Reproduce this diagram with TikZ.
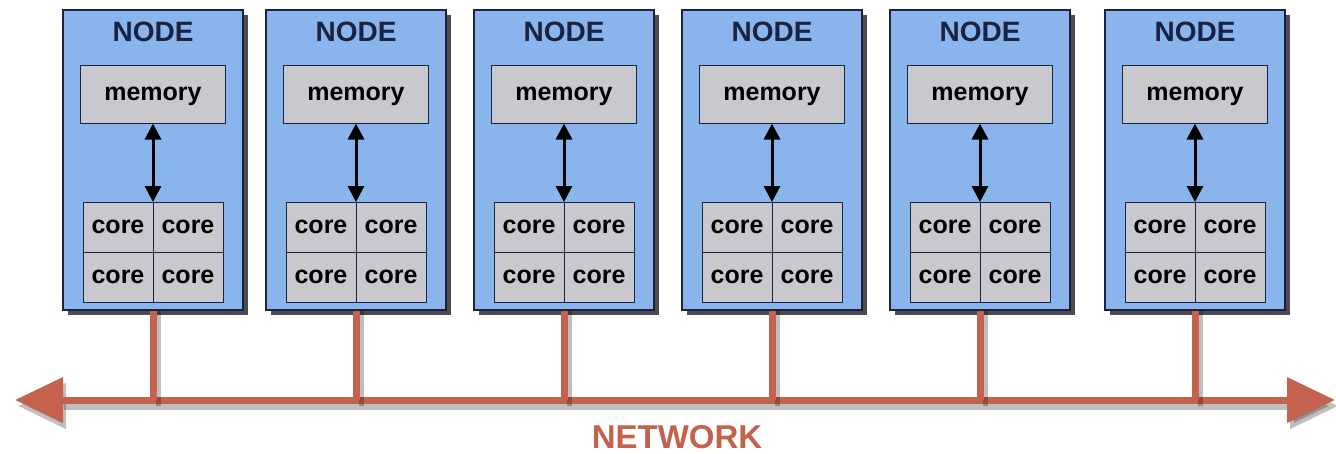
\documentclass[tikz,border=0pt]{standalone}
\usepackage{fontspec}
\setmainfont{Liberation Sans}
\usetikzlibrary{positioning,arrows.meta,shadows}
\definecolor{nodeblue}{RGB}{138,180,236}
\definecolor{navy}{RGB}{25,35,65}
\definecolor{cellgray}{RGB}{200,200,206}
\definecolor{netred}{RGB}{196,98,78}
\begin{document}
\begin{tikzpicture}[x=1pt, y=-1pt,
	nodebox/.style = {draw=navy, line width=1.5pt, fill=nodeblue, minimum width=180pt, minimum height=300pt,
		drop shadow={shadow xshift=5pt, shadow yshift=-5pt, fill=black, opacity=0.7}},
	membox/.style = {draw=navy, line width=1pt, fill=cellgray, minimum width=145pt, minimum height=58pt,
		text depth=0pt, font=\bfseries\fontsize{25}{25}\selectfont},
	corebox/.style = {draw=navy, line width=1pt, fill=cellgray, minimum width=70pt, minimum height=50pt,
		inner sep=0pt, outer sep=0pt, font=\bfseries\fontsize{25}{25}\selectfont},
	title/.style = {font=\bfseries\fontsize{28}{28}\selectfont, text=navy},
	memarrow/.style = {{Triangle[length=16pt,width=16pt]}-{Triangle[length=16pt,width=16pt]}, line width=3pt},
	netline/.style = {draw=netred, line width=7pt},
	netshadow/.style = {draw=black, line width=8pt, opacity=0.25}]
	\useasboundingbox (0,0) rectangle (1336,453);
	\coordinate (netL) at (15,400);
	\coordinate (netR) at (1335,400);
	\coordinate (shL) at (18,406);
	\coordinate (shR) at (1338,406);
	% network shadow and line
	\draw[netshadow, {Triangle[length=48pt,width=44pt]}-{Triangle[length=48pt,width=44pt]}] (shL) -- (shR);
	\draw[netline, {Triangle[length=48pt,width=44pt]}-{Triangle[length=48pt,width=44pt]}, fill=netred] (netL) -- (netR);
	\node[font=\bfseries\fontsize{33}{33}\selectfont, text=netred] (netlabel) at (677,437) {NETWORK};
	% compute nodes
	\foreach \x [count=\i] in {153,356,564,772,980,1195} {
		\node[nodebox] (node\i) at (\x,160) {};
		\draw[netshadow, line width=5pt] ([xshift=5pt]node\i.south) -- ([xshift=5pt]node\i.south |- shL);
		\draw[netline] (node\i.south) -- (node\i.south |- netL);
		\node[title] (lbl\i) at (\x,32) {NODE};
		\node[membox] (mem\i) at (\x,94) {memory};
		\node[corebox, anchor=north east] (c\i a) at (\x,202) {core};
		\node[corebox, right=0pt of c\i a] (c\i b) {core};
		\node[corebox, below=0pt of c\i a] (c\i c) {core};
		\node[corebox, right=0pt of c\i c] (c\i d) {core};
		\draw[memarrow] (mem\i.south) -- (c\i a.north east);
	}
\end{tikzpicture}
\end{document}
